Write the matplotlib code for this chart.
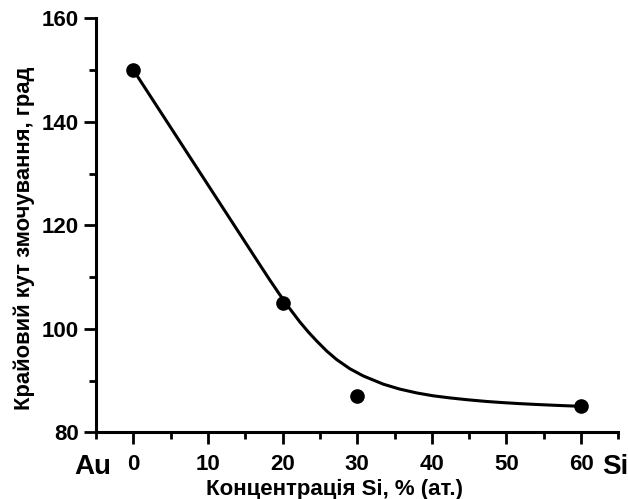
import matplotlib
matplotlib.use("Agg")
import matplotlib.pyplot as plt
from matplotlib.ticker import MultipleLocator
import matplotlib.transforms as mtransforms

plt.rcParams["font.family"] = ["Liberation Sans", "DejaVu Sans"]
plt.rcParams["font.weight"] = "bold"

# measured points
si_conc = [0, 20, 30, 60]
angle = [150, 105, 87, 85]

# fitted curve
curve_x = [0, 5, 10, 15, 17, 18.3, 19.5, 20.8, 22.3, 23.5, 24.6, 25.9, 27.25,
           29, 30.8, 33.5, 35.7, 38, 40.2, 42.4, 44.7, 47.4, 49.6, 51.8, 54,
           56.3, 58.2, 60]
curve_y = [150, 138.9, 127.8, 116.7, 112.26, 109.4, 106.85, 104.2, 101.35,
           99.3, 97.6, 95.72, 94.05, 92.3, 90.9, 89.3, 88.35, 87.6, 87.05,
           86.65, 86.3, 85.95, 85.73, 85.54, 85.38, 85.23, 85.12, 85.02]

x_ticks = [0, 10, 20, 30, 40, 50, 60]
y_ticks = [80, 100, 120, 140, 160]

fig = plt.figure(figsize=(6.28, 4.99), dpi=100)
ax = fig.add_axes([96.1 / 628, 66.7 / 499, 522.2 / 628, 414 / 499])

ax.plot(curve_x, curve_y, color="black", lw=2.2, solid_capstyle="round",
        solid_joinstyle="round")
ax.plot(si_conc, angle, "o", color="black", ms=9.5)

ax.set_xlim(-5, 65)
ax.set_ylim(80, 160)
ax.set_xticks(x_ticks)
ax.set_yticks(y_ticks)
ax.xaxis.set_minor_locator(MultipleLocator(5))
ax.yaxis.set_minor_locator(MultipleLocator(10))

for s in ["top", "right"]:
    ax.spines[s].set_visible(False)
for s in ["left", "bottom"]:
    ax.spines[s].set_linewidth(2.2)

ax.tick_params(which="major", direction="out", length=8.5, width=2, labelsize=16, pad=4)
ax.tick_params(which="minor", direction="out", length=5, width=2)
ax.tick_params(axis="x", which="major", pad=7)
for lab in ax.get_xticklabels() + ax.get_yticklabels():
    lab.set_fontweight("bold")

ax.set_xlabel("Концентрація Si, % (ат.)", fontsize=16, fontweight="bold")
ax.set_ylabel("Крайовий кут змочування, град", fontsize=15.8, fontweight="bold")
ax.xaxis.set_label_coords(0.4556, -0.112)
ax.yaxis.set_label_coords(-0.117, 0.469)

trans = mtransforms.blended_transform_factory(ax.transData, ax.transAxes)
ax.text(-5.45, -0.083, "Au", transform=trans, fontsize=20, fontweight="bold",
        ha="center", va="center")
ax.text(64.6, -0.083, "Si", transform=trans, fontsize=20, fontweight="bold",
        ha="center", va="center")

fig.savefig("out.png", dpi=100)
